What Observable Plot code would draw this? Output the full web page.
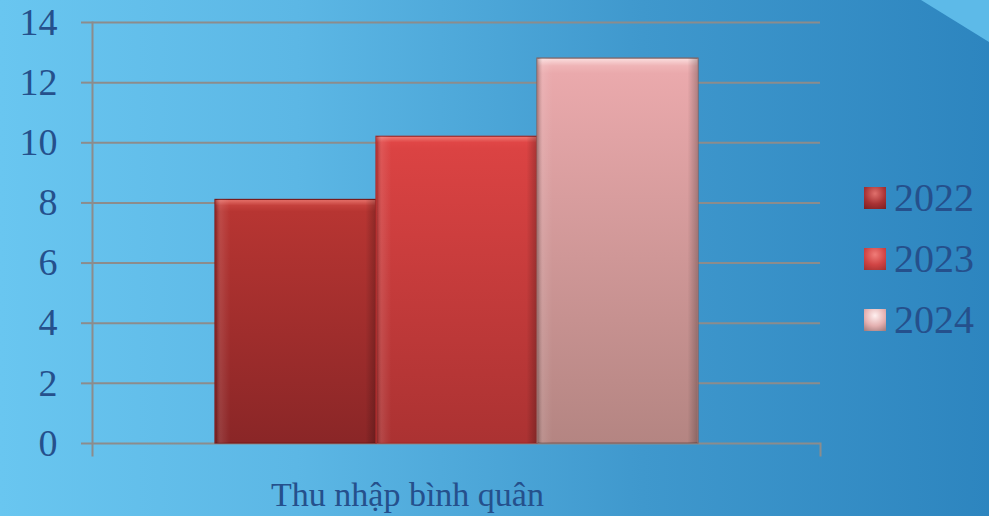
<!DOCTYPE html>
<html>
<head>
<meta charset="utf-8">
<script src="https://cdn.jsdelivr.net/npm/d3@7"></script>
<script src="https://cdn.jsdelivr.net/npm/@observablehq/plot@0.6"></script>
<style>
  html, body { margin: 0; padding: 0; }
  body {
    width: 989px; height: 516px; overflow: hidden; position: relative;
    background: linear-gradient(to right, #69c6f0 0%, #5cb7e5 30%, #3f98cd 65%, #2d85bf 100%);
    font-family: "Liberation Serif", "Times New Roman", serif;
  }
  #deco { position: absolute; left: 0; top: 0; width: 989px; height: 516px;
    background: #5dbae8; clip-path: polygon(921px 0, 989px 0, 989px 42px); }
  #chart { position: absolute; left: 0; top: 0; }
  #legend { position: absolute; left: 864px; top: 167px; }
  .item { display: flex; align-items: center; height: 61px; }
  .sw { width: 22px; height: 22px; margin-right: 8px; box-sizing: border-box; }
  .lab { font-size: 40px; color: #25508c; line-height: 1; }
</style>
</head>
<body>
<div id="deco"></div>
<svg width="0" height="0" style="position:absolute">
  <defs>
    <linearGradient id="g2022" x1="0" y1="0" x2="0" y2="1">
      <stop offset="0" stop-color="#e8746c"/>
      <stop offset="0.025" stop-color="#c4403c"/>
      <stop offset="0.05" stop-color="#b73532"/>
      <stop offset="1" stop-color="#8a2627"/>
    </linearGradient>
    <linearGradient id="g2023" x1="0" y1="0" x2="0" y2="1">
      <stop offset="0" stop-color="#f07a74"/>
      <stop offset="0.02" stop-color="#e04646"/>
      <stop offset="0.04" stop-color="#db4343"/>
      <stop offset="1" stop-color="#ab3232"/>
    </linearGradient>
    <linearGradient id="g2024" x1="0" y1="0" x2="0" y2="1">
      <stop offset="0" stop-color="#fbe0e0"/>
      <stop offset="0.02" stop-color="#efb4b6"/>
      <stop offset="0.04" stop-color="#eaa9ac"/>
      <stop offset="1" stop-color="#b48582"/>
    </linearGradient>
    <linearGradient id="shade" x1="0" y1="0" x2="1" y2="0">
      <stop offset="0" stop-color="#000" stop-opacity="0.22"/>
      <stop offset="0.03" stop-color="#fff" stop-opacity="0.10"/>
      <stop offset="0.09" stop-color="#fff" stop-opacity="0.0"/>
      <stop offset="0.94" stop-color="#000" stop-opacity="0.0"/>
      <stop offset="1" stop-color="#000" stop-opacity="0.22"/>
    </linearGradient>
  </defs>
</svg>
<div id="chart"></div>
<div id="legend"></div>
<script>
// ---- data ----
const category = "Thu nhập bình quân";
const years = ["2022", "2023", "2024"];
const values = [8.1, 10.2, 12.8];
const yTicks = [0, 2, 4, 6, 8, 10, 12, 14];

// ---- styles ----
const fills = ["url(#g2022)", "url(#g2023)", "url(#g2024)"];
const strokes = ["#7a1c1d", "#a32a2a", "#84605e"];
const swatches = [
  "radial-gradient(circle at 50% 30%, #e0706c 0%, #a83234 55%, #7a1e22 100%)",
  "radial-gradient(circle at 50% 30%, #f07c78 0%, #d04444 55%, #a03030 100%)",
  "radial-gradient(circle at 50% 30%, #fff0f0 0%, #e4b0b0 55%, #a07878 100%)"
];
const textColor = "#25508c";
const gridColor = "#8c8c8c";

const rows = years.map((y, i) => ({category, year: y, value: values[i]}));

const W = 840, H = 516, mL = 92, mR = 20, mT = 22, mB = 73;

const chart = Plot.plot({
  width: W, height: H,
  marginLeft: mL, marginRight: mR, marginTop: mT, marginBottom: mB,
  style: {fontFamily: "'Liberation Serif', 'Times New Roman', serif", color: textColor, background: "transparent", overflow: "visible"},
  fx: {domain: [category], padding: 0},
  x: {domain: years, paddingInner: 0, paddingOuter: 0.757, align: 0.5, axis: null},
  y: {domain: [0, 14]},
  color: {domain: years, range: fills},
  marks: [
    Plot.gridY(yTicks, {stroke: gridColor, strokeOpacity: 1, strokeWidth: 2}),
    Plot.axisY(yTicks, {tickSize: 11, tickPadding: 24, stroke: gridColor, strokeWidth: 2, fill: textColor, fontSize: 38, label: null}),
    Plot.axisFx({anchor: "bottom", tickSize: 0, tickPadding: 38, fontSize: 34, fill: textColor, label: null, dx: -49}),
    Plot.frame({anchor: "left", insetBottom: -12, stroke: gridColor, strokeWidth: 2}),
    Plot.frame({anchor: "right", insetTop: H - mT - mB, insetBottom: -12, stroke: gridColor, strokeWidth: 2}),
    Plot.barY(rows, {fx: "category", x: "year", y: "value", fill: "year", stroke: (d) => strokes[years.indexOf(d.year)], strokeWidth: 1.2}),
    Plot.barY(rows, {fx: "category", x: "year", y: "value", fill: "url(#shade)", insetLeft: 1, insetRight: 1})
  ]
});
document.getElementById("chart").appendChild(chart);

const legend = document.getElementById("legend");
years.forEach((y, i) => {
  const item = document.createElement("div");
  item.className = "item";
  const sw = document.createElement("div");
  sw.className = "sw";
  sw.style.background = swatches[i];
  const lab = document.createElement("span");
  lab.className = "lab";
  lab.textContent = y;
  item.appendChild(sw); item.appendChild(lab);
  legend.appendChild(item);
});
</script>
</body>
</html>
